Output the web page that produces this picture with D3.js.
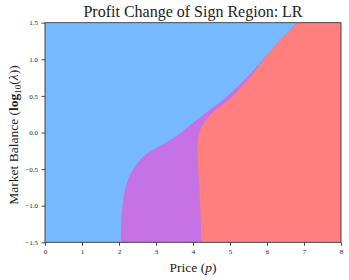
<!DOCTYPE html>
<meta charset="utf-8">
<style>
body { margin: 0; background: #fff; }
svg { font-family: "Liberation Serif", "DejaVu Serif", serif; }
.axis path, .axis line { stroke: #222; stroke-width: 0.8; }
.axis text { font-size: 7px; fill: #222; font-family: "Liberation Serif", serif; }
</style>
<svg width="349" height="280"></svg>
<script src="https://d3js.org/d3.v7.min.js"></script>
<script>

// boundary between blue and purple regions (price, log10 lambda)
var blueEdgeX = [2.05, 2.08, 2.16, 2.28, 2.43, 2.65, 2.92, 3.29, 3.68, 4.05, 4.46, 4.87, 5.27, 5.60, 5.97, 6.41, 6.81];
var blueEdgeY = [-1.5, -1.06, -0.79, -0.60, -0.47, -0.33, -0.24, -0.13, 0.00, 0.15, 0.31, 0.47, 0.66, 0.83, 1.04, 1.29, 1.5];

// boundary between purple and red regions
var redEdgeX = [4.22, 4.21, 4.17, 4.14, 4.12, 4.13, 4.17, 4.26, 4.40, 4.60, 4.86, 5.08, 5.27, 5.44, 5.61, 5.77, 6.02, 6.44, 6.84];
var redEdgeY = [-1.5, -1.20, -0.74, -0.51, -0.28, -0.10, 0.00, 0.10, 0.20, 0.30, 0.40, 0.50, 0.60, 0.70, 0.80, 0.90, 1.07, 1.30, 1.5];

var xTicks = [0, 1, 2, 3, 4, 5, 6, 7, 8];
var yTicks = [-1.5, -1.0, -0.5, 0.0, 0.5, 1.0, 1.5];

var svg = d3.select("svg"),
    margin = {top: 22.7, right: 8, bottom: 37.7, left: 45},
    width = +svg.attr("width") - margin.left - margin.right,
    height = +svg.attr("height") - margin.top - margin.bottom;

var x = d3.scaleLinear().domain([0, 8]).range([0, width]),
    y = d3.scaleLinear().domain([-1.5, 1.5]).range([height, 0]);

var g = svg.append("g")
    .attr("transform", "translate(" + margin.left + "," + margin.top + ")");

g.append("clipPath").attr("id", "clip")
  .append("rect").attr("width", width).attr("height", height);

var plot = g.append("g").attr("clip-path", "url(#clip)");

plot.append("rect")
    .attr("x", x(0)).attr("y", y(1.5))
    .attr("width", x(8) - x(0)).attr("height", y(-1.5) - y(1.5))
    .attr("fill", "#76b9fe");

var area = d3.area()
    .y(function(d) { return y(d[1]); })
    .x0(function(d) { return x(d[0]); })
    .x1(x(8) + 2)
    .curve(d3.curveCatmullRom.alpha(0.5));

plot.append("path")
    .datum(d3.zip(blueEdgeX, blueEdgeY))
    .attr("fill", "#c472e5")
    .attr("d", area);

plot.append("path")
    .datum(d3.zip(redEdgeX, redEdgeY))
    .attr("fill", "#ff7f7f")
    .attr("d", area);

// frame
g.append("rect")
    .attr("width", width).attr("height", height)
    .attr("fill", "none").attr("stroke", "#222").attr("stroke-width", 0.8);

g.append("g")
    .attr("class", "axis")
    .attr("transform", "translate(0," + height + ")")
    .call(d3.axisBottom(x).tickValues(xTicks).tickSize(3.5).tickPadding(3).tickFormat(d3.format("d")));

g.append("g")
    .attr("class", "axis")
    .call(d3.axisLeft(y).tickValues(yTicks).tickSize(3.5).tickPadding(3.5).tickFormat(d3.format(".1f")));

g.selectAll(".axis .domain").remove();

// title
svg.append("text")
    .attr("x", margin.left + width / 2)
    .attr("y", 17)
    .attr("text-anchor", "middle")
    .attr("font-size", 16)
    .attr("fill", "#222")
    .text("Profit Change of Sign Region: LR");

// x label
var xl = svg.append("text")
    .attr("x", margin.left + width / 2)
    .attr("y", 271.5)
    .attr("text-anchor", "middle")
    .attr("font-size", 13.5)
    .attr("fill", "#222");
xl.append("tspan").text("Price (");
xl.append("tspan").attr("font-style", "italic").text("p");
xl.append("tspan").text(")");

// y label
var yl = svg.append("text")
    .attr("transform", "translate(18,135) rotate(-90)")
    .attr("text-anchor", "middle")
    .attr("font-size", 13.5)
    .attr("fill", "#222");
yl.append("tspan").text("Market Balance (");
yl.append("tspan").attr("font-weight", "bold").text("log");
yl.append("tspan").attr("font-size", 9).attr("dy", 3).text("10");
yl.append("tspan").attr("dy", -3).text("(");
yl.append("tspan").attr("font-style", "italic").text("λ");
yl.append("tspan").text("))");

</script>
